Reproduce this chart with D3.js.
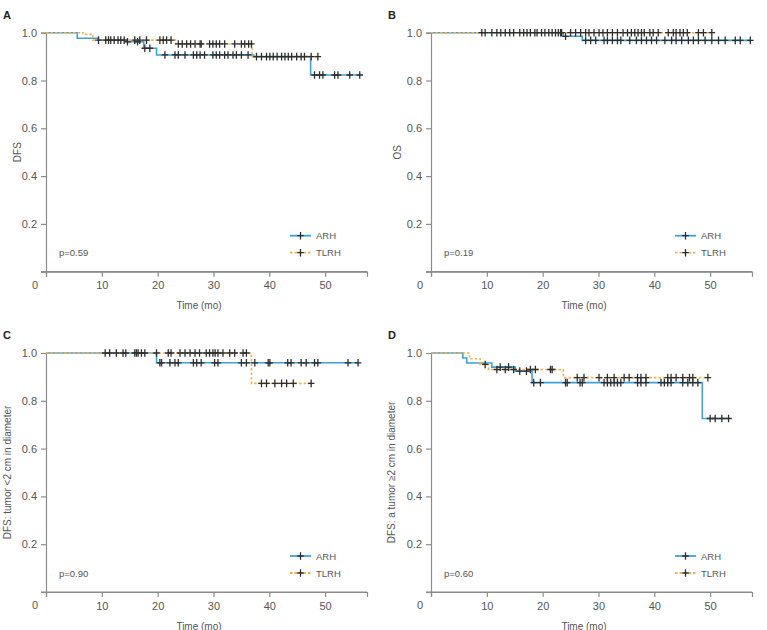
<!DOCTYPE html>
<html>
<head>
<meta charset="utf-8">
<script src="https://cdn.jsdelivr.net/npm/d3@7"></script>
<style>
  body { margin: 0; background: #fff; }
  text { font-family: "Liberation Sans", Arial, sans-serif; }
</style>
</head>
<body>
<svg id="km" width="767" height="630"></svg>
<script>
const xTicks = [10, 20, 30, 40, 50];
const yTicks = [0.2, 0.4, 0.6, 0.8, 1.0];
const groupNames = ["ARH", "TLRH"];

// A: DFS
const aArhSteps = [[0, 1], [5.6, 0.977], [9.4, 0.969], [14.3, 0.962], [17.5, 0.935], [19.8, 0.907], [37.2, 0.9], [47.4, 0.823]];
const aArhCensor = [11.2, 12.2, 13.4, 14.6, 16.4, 17.7, 18.6, 21.3, 23.1, 23.7, 24.9, 26.4, 27.0, 27.6, 28.4, 29.9, 30.5, 31.1, 32.0, 32.6, 33.5, 34.1, 35.0, 36.2, 37.7, 39.5, 40.7, 42.2, 43.4, 44.9, 46.3, 48.1, 49.0, 49.6, 51.7, 52.3, 54.4, 56.2];
const aTlrhSteps = [[0, 1], [6.6, 0.993], [8.4, 0.969], [23.2, 0.953], [36.9, 0.9]];
const aTlrhCensor = [9.4, 10.7, 11.6, 12.9, 14.0, 15.9, 16.8, 18.0, 20.4, 21.0, 21.6, 22.4, 23.7, 24.4, 25.2, 25.9, 26.7, 27.6, 27.8, 29.3, 29.9, 30.5, 31.1, 32.0, 33.8, 35.0, 35.6, 36.3, 36.8, 38.6, 40.1, 41.4, 42.8, 44.0, 45.7, 47.5, 48.7];

// B: OS
const bArhSteps = [[0, 1], [23.7, 0.985], [27.1, 0.968]];
const bArhCensor = [9.7, 11.8, 13.3, 14.8, 16.6, 17.8, 19.0, 20.4, 21.7, 22.8, 23.4, 24.1, 27.7, 28.6, 29.5, 31.0, 31.6, 32.5, 33.4, 34.0, 35.6, 36.8, 37.7, 38.6, 39.5, 40.4, 41.9, 43.1, 43.9, 44.9, 46.1, 47.0, 47.9, 49.1, 50.3, 51.5, 52.7, 54.5, 55.4, 57.2];
const bTlrhSteps = [[0, 1]];
const bTlrhCensor = [9.1, 10.9, 12.5, 14.1, 15.9, 17.2, 18.6, 19.8, 21.1, 22.3, 23.2, 25.0, 25.9, 26.8, 27.7, 28.3, 29.2, 30.1, 30.8, 31.6, 32.5, 33.4, 34.4, 35.2, 35.9, 36.5, 37.1, 37.7, 38.2, 39.2, 39.8, 40.7, 42.5, 43.4, 43.9, 44.6, 45.2, 45.9, 47.9, 48.8, 50.3];

// C: DFS, tumor < 2 cm
const cArhSteps = [[0, 1], [19.8, 0.959]];
const cArhCensor = [11.4, 13.8, 16.2, 17.1, 20.4, 20.7, 22.2, 23.1, 23.7, 26.4, 27.0, 27.8, 30.2, 30.8, 35.0, 35.9, 37.4, 39.8, 40.1, 43.3, 43.9, 45.7, 46.6, 48.1, 48.7, 54.1, 55.9];
const cTlrhSteps = [[0, 1], [36.8, 0.873]];
const cTlrhCensor = [10.6, 12.6, 14.3, 15.9, 16.5, 17.7, 19.8, 21.9, 22.4, 24.0, 24.9, 25.8, 26.7, 27.5, 28.7, 29.3, 29.9, 30.3, 30.8, 31.7, 32.9, 33.8, 35.3, 35.9, 38.6, 39.5, 41.0, 42.2, 43.1, 44.3, 47.5];

// D: DFS, tumor >= 2 cm
const dArhSteps = [[0, 1], [5.7, 0.979], [6.4, 0.958], [10.9, 0.941], [15.1, 0.924], [18.1, 0.876], [48.6, 0.726]];
const dArhCensor = [12.4, 13.9, 15.9, 17.1, 18.4, 19.6, 24.1, 24.4, 26.7, 27.1, 31.0, 31.6, 32.2, 32.8, 33.4, 34.0, 37.0, 37.6, 38.5, 41.2, 41.8, 42.4, 43.0, 45.1, 46.0, 46.9, 47.8, 50.0, 50.9, 52.1, 53.3];
const dTlrhSteps = [[0, 1], [6.9, 0.976], [8.8, 0.952], [10.3, 0.931], [23.7, 0.897]];
const dTlrhCensor = [9.7, 11.8, 13.3, 14.8, 17.8, 18.7, 21.4, 21.7, 26.2, 27.4, 30.1, 31.6, 32.8, 34.6, 35.5, 37.0, 37.6, 38.5, 42.4, 43.0, 43.9, 45.1, 46.3, 46.9, 49.6];

const panels = [
  { letter: "A", ylab: "DFS", p: "p=0.59", left: 46, top: 32.7, labX: 17, arh: [aArhSteps, aArhCensor], tlrh: [aTlrhSteps, aTlrhCensor] },
  { letter: "B", ylab: "OS", p: "p=0.19", left: 431, top: 32.7, labX: 397, arh: [bArhSteps, bArhCensor], tlrh: [bTlrhSteps, bTlrhCensor] },
  { letter: "C", ylab: "DFS: tumor <2 cm in diameter", p: "p=0.90", left: 46, top: 353, labX: 7, arh: [cArhSteps, cArhCensor], tlrh: [cTlrhSteps, cTlrhCensor] },
  { letter: "D", ylab: "DFS: a tumor \u22652 cm in diameter", p: "p=0.60", left: 431, top: 353, labX: 391, arh: [dArhSteps, dArhCensor], tlrh: [dTlrhSteps, dTlrhCensor] }
];

const plotW = 321, plotH = 239;
const axisColor = "#8c8c8c", textColor = "#555";
const arhColor = "#3ea3d4", tlrhColor = "#f5b04c", markColor = "#2e2e2e";

const svg = d3.select("#km");

function survAt(steps, t) {
  let v = steps[0][1];
  steps.forEach(s => { if (s[0] <= t) v = s[1]; });
  return v;
}

function plus(g, x, y, size) {
  g.append("path")
    .attr("d", `M${x - size},${y}H${x + size}M${x},${y - size - 0.5}V${y + size + 0.5}`)
    .attr("stroke", markColor)
    .attr("stroke-width", 1.3)
    .attr("fill", "none");
}

panels.forEach(pn => {
  const x = d3.scaleLinear().domain([0, 57.5]).range([pn.left, pn.left + plotW]);
  const y = d3.scaleLinear().domain([0, 1]).range([pn.top + plotH, pn.top]);
  const bottom = pn.top + plotH;
  const g = svg.append("g");

  // axes
  const xAxis = g.append("g")
    .attr("transform", "translate(0," + bottom + ")")
    .call(d3.axisBottom(x).tickValues([0].concat(xTicks)).tickSize(5).tickPadding(5)
      .tickFormat(d => d === 0 ? "" : d));
  const yAxis = g.append("g")
    .attr("transform", "translate(" + pn.left + ",0)")
    .call(d3.axisLeft(y).tickValues([0].concat(yTicks)).tickSize(5).tickPadding(4)
      .tickFormat(d => d === 0 ? "" : d3.format(".1f")(d)));
  [xAxis, yAxis].forEach(a => {
    a.select(".domain").attr("stroke", axisColor).attr("stroke-width", 1.2);
    a.selectAll(".tick line").attr("stroke", axisColor).attr("stroke-width", 1.2);
    a.selectAll("text").attr("fill", textColor).style("font-size", "11px");
  });
  // extend x axis line across the y tick at zero
  g.append("line")
    .attr("x1", pn.left - 5).attr("x2", pn.left + plotW)
    .attr("y1", bottom).attr("y2", bottom)
    .attr("stroke", axisColor).attr("stroke-width", 1.2);

  g.append("text")
    .attr("x", pn.left - 11).attr("y", bottom + 17)
    .attr("text-anchor", "middle").attr("fill", textColor)
    .style("font-size", "11px").text("0");

  g.append("text")
    .attr("x", pn.left + 153).attr("y", bottom + 37.5)
    .attr("text-anchor", "middle").attr("fill", textColor)
    .style("font-size", "10px").text("Time (mo)");

  g.append("text")
    .attr("transform", "translate(" + (pn.labX + 3.5) + "," + (pn.top + plotH / 2) + ") rotate(-90)")
    .attr("text-anchor", "middle").attr("fill", textColor)
    .style("font-size", "10px").text(pn.ylab);

  g.append("text")
    .attr("x", pn.left - 43).attr("y", pn.top - 14)
    .attr("fill", "#222").attr("font-weight", "bold")
    .style("font-size", "11px").text(pn.letter);

  g.append("text")
    .attr("x", pn.left + 13).attr("y", bottom - 15.5)
    .attr("fill", textColor).style("font-size", "9.5px").text(pn.p);

  // curves
  const line = d3.line().x(d => x(d[0])).y(d => y(d[1])).curve(d3.curveStepAfter);
  [[pn.arh, arhColor, null], [pn.tlrh, tlrhColor, "2.5,2"]].forEach(([grp, col, dash]) => {
    const steps = grp[0], cens = grp[1];
    const end = Math.max(d3.max(cens), steps[steps.length - 1][0]);
    const pts = steps.concat([[end, steps[steps.length - 1][1]]]);
    g.append("path")
      .attr("d", line(pts))
      .attr("fill", "none")
      .attr("stroke", col)
      .attr("stroke-width", 1.6)
      .attr("stroke-dasharray", dash);
  });
  [pn.arh, pn.tlrh].forEach(grp => {
    grp[1].forEach(t => plus(g, x(t), y(survAt(grp[0], t)), 3.3));
  });

  // legend
  groupNames.forEach((name, i) => {
    const ly = bottom - 36 + i * 17;
    g.append("line")
      .attr("x1", pn.left + 244).attr("x2", pn.left + 265)
      .attr("y1", ly).attr("y2", ly)
      .attr("stroke", i === 0 ? arhColor : tlrhColor)
      .attr("stroke-width", 1.8)
      .attr("stroke-dasharray", i === 0 ? null : "2.5,2");
    plus(g, pn.left + 254.5, ly, 3.3);
    g.append("text")
      .attr("x", pn.left + 270).attr("y", ly + 3.5)
      .attr("fill", textColor).style("font-size", "9.5px").text(name);
  });
});
</script>
</body>
</html>
